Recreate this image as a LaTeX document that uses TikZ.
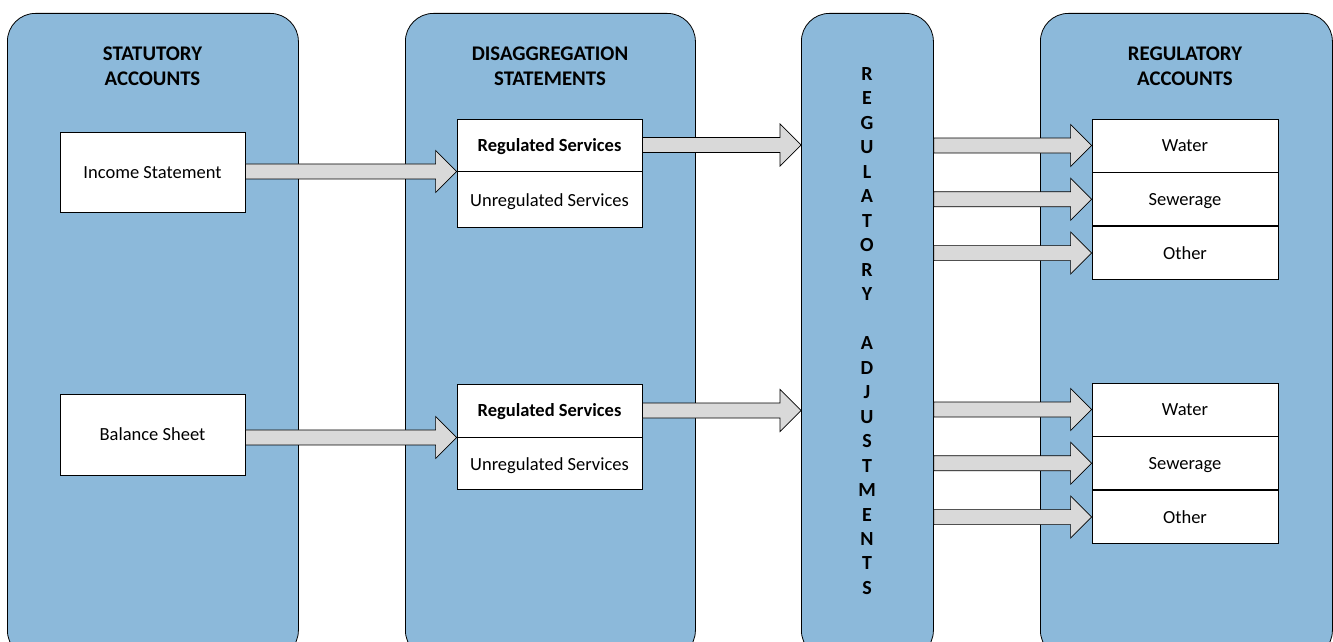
\documentclass[tikz,border=0pt]{standalone}
\usepackage{fontspec}
\setmainfont{Carlito}
\usetikzlibrary{calc}
\definecolor{colfill}{RGB}{140,185,218}
\definecolor{arrowgray}{RGB}{217,217,217}
\tikzset{
  column/.style={draw=black, line width=0.8pt, fill=colfill, rounded corners=28pt,
    inner sep=0pt, anchor=north west},
  heading/.style={font=\fontsize{20.8}{25}\selectfont\bfseries, align=center, inner sep=0pt},
  itembox/.style={draw=black, line width=0.8pt, fill=white, inner sep=0pt,
    text height=12.5pt, text depth=0pt, font=\fontsize{18.5}{22}\selectfont},
  blockarrow/.style={draw=black, line width=0.7pt, fill=arrowgray,
    to path={let \p1=(\tikztostart), \p2=(\tikztotarget) in
      (\x1,\y2+7.5pt) -- (\x2-21pt,\y2+7.5pt) -- (\x2-21pt,\y2+21pt) -- (\x2,\y2)
      -- (\x2-21pt,\y2-21pt) -- (\x2-21pt,\y2-7.5pt) -- (\x1,\y2-7.5pt) -- cycle}}
}
\begin{document}
\begin{tikzpicture}[x=1pt,y=-1pt]
\useasboundingbox (0,0) rectangle (1333,642);
\clip (0,0) rectangle (1333,642);

% four columns
\node[column, minimum width=291pt, minimum height=645pt] (stat) at (7,13) {};
\node[column, minimum width=290pt, minimum height=645pt] (disagg) at (405,13) {};
\node[column, minimum width=132pt, minimum height=645pt] (radj) at (801,13) {};
\node[column, minimum width=292pt, minimum height=645pt] (regacc) at (1040,13) {};

% column headings
\node[heading] (h1) at (152.5,66.5) {STATUTORY\\ACCOUNTS};
\node[heading] (h2) at (550,66.5) {DISAGGREGATION\\STATEMENTS};
\node[heading] (h4) at (1185,66.5) {REGULATORY\\ACCOUNTS};
\node[heading, font=\fontsize{20}{24.48}\selectfont\bfseries] (h3) at (867,331)
  {R\\E\\G\\U\\L\\A\\T\\O\\R\\Y\\[24.48pt]A\\D\\J\\U\\S\\T\\M\\E\\N\\T\\S};

% statutory accounts
\node[itembox, minimum width=185pt, minimum height=80pt] (inc) at (152.5,172) {Income Statement};
\node[itembox, minimum width=185pt, minimum height=81pt] (bal) at (152.5,434.5) {Balance Sheet};

% disaggregation statements
\node[itembox, minimum width=185pt, minimum height=52pt, font=\fontsize{18.5}{22}\selectfont\bfseries] (reg1) at (549.5,145) {Regulated Services};
\node[itembox, minimum width=185pt, minimum height=56pt, anchor=north] (unreg1) at (reg1.south) {Unregulated Services};
\node[itembox, minimum width=185pt, minimum height=53pt, font=\fontsize{18.5}{22}\selectfont\bfseries] (reg2) at (549.5,410.5) {Regulated Services};
\node[itembox, minimum width=185pt, minimum height=52pt, anchor=north] (unreg2) at (reg2.south) {Unregulated Services};

% regulatory accounts
\node[itembox, minimum width=186pt, minimum height=53pt] (wat1) at (1185,145.5) {Water};
\node[itembox, minimum width=186pt, minimum height=53pt, anchor=north] (sew1) at (wat1.south) {Sewerage};
\node[itembox, minimum width=186pt, minimum height=53pt, anchor=north] (oth1) at (sew1.south) {Other};
\node[itembox, minimum width=186pt, minimum height=53pt] (wat2) at (1185,409.5) {Water};
\node[itembox, minimum width=186pt, minimum height=53pt, anchor=north] (sew2) at (wat2.south) {Sewerage};
\node[itembox, minimum width=186pt, minimum height=53pt, anchor=north] (oth2) at (sew2.south) {Other};

% block arrows
\draw[blockarrow] (inc.east) to (reg1.south west);
\draw[blockarrow] (bal.east) to (reg2.south west);
\draw[blockarrow] (reg1.east) to (radj.west |- reg1.east);
\draw[blockarrow] (reg2.east) to (radj.west |- reg2.east);
\foreach \t in {wat1,sew1,oth1,wat2,sew2,oth2}
  \draw[blockarrow] (radj.east |- \t.west) to (\t.west);
\end{tikzpicture}
\end{document}
